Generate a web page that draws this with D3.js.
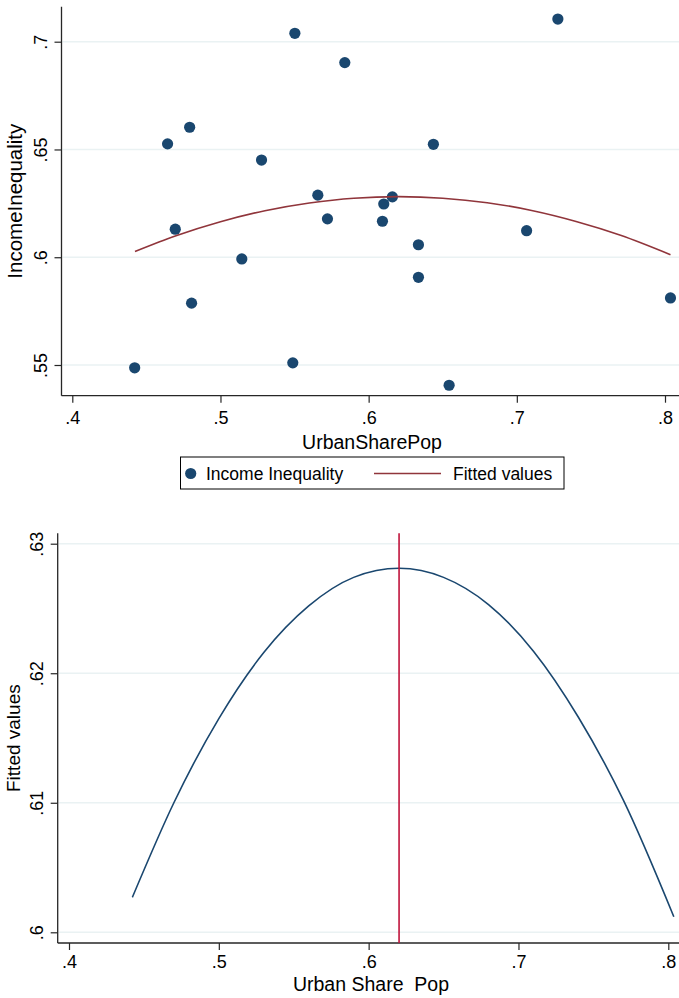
<!DOCTYPE html>
<html>
<head>
<meta charset="utf-8">
<script src="https://cdn.jsdelivr.net/npm/d3@7"></script>
<style>
  body { margin: 0; background: #fff; }
  svg { display: block; font-family: "Liberation Sans", Arial, Helvetica, sans-serif; }
  .tick text { fill: #000; }
</style>
</head>
<body>
<div id="chart"></div>
<script>
// data
var urbanShare = [0.7277, 0.5502, 0.5839, 0.4792, 0.4643, 0.6437, 0.5277, 0.5657, 0.6160, 0.6102,
                  0.5722, 0.6093, 0.4695, 0.7066, 0.6336, 0.5144, 0.6336, 0.4805, 0.8037, 0.4421,
                  0.5488, 0.6543];
var incomeIneq = [0.7105, 0.7039, 0.6903, 0.6603, 0.6526, 0.6524, 0.6451, 0.6288, 0.6280, 0.6247,
                  0.6178, 0.6167, 0.6130, 0.6123, 0.6058, 0.5992, 0.5907, 0.5787, 0.5811, 0.5487,
                  0.5510, 0.5406];

// fitted values (quadratic fit)
var fitX = [0.4423, 0.4700, 0.5000, 0.5300, 0.5600, 0.5900, 0.6203, 0.6500, 0.6800, 0.7100, 0.7400, 0.7700, 0.8037];
var fitY = [0.6027, 0.6100, 0.6165, 0.6216, 0.6252, 0.6274, 0.6281, 0.6274, 0.6253, 0.6217, 0.6166, 0.6102, 0.6012];

// turning point of the fit
var peakX = [0.6203];

var xTicks = [0.4, 0.5, 0.6, 0.7, 0.8];
var yTicksTop = [0.55, 0.6, 0.65, 0.7];
var yTicksBot = [0.6, 0.61, 0.62, 0.63];

var navy = "#1a476f";
var maroon = "#90353b";
var gridColor = "#eaf2f3";
var axisColor = "#262626";

var svg = d3.select("#chart")
  .append("svg")
  .attr("width", 679)
  .attr("height", 998);

var stataFmt = d => String(+d.toFixed(2)).replace(/^0/, "");

var scatter = urbanShare.map((u, i) => ({x: u, y: incomeIneq[i]}));
var fitted = fitX.map((u, i) => ({x: u, y: fitY[i]}));

// draw one panel frame: gridlines, axes, labels
function drawPanel(p) {
  var g = svg.append("g");

  // gridlines
  g.selectAll(".grid")
    .data(p.yTicks)
    .enter()
    .append("line")
    .attr("x1", p.left + 1)
    .attr("x2", 679)
    .attr("y1", d => p.y(d))
    .attr("y2", d => p.y(d))
    .attr("stroke", gridColor)
    .attr("stroke-width", 1.5);

  // x axis
  var xAxis = g.append("g")
    .attr("transform", `translate(0, ${p.bottom})`)
    .call(d3.axisBottom(p.x).tickValues(xTicks).tickFormat(stataFmt).tickSizeOuter(0).tickSize(7));
  xAxis.select(".domain").remove();
  xAxis.selectAll(".tick line").attr("stroke", axisColor).attr("stroke-width", 1.2);
  xAxis.selectAll(".tick text")
    .attr("y", p.xLabelBase - p.bottom)
    .attr("dy", null)
    .attr("font-size", "18px");

  // y axis
  var yAxis = g.append("g")
    .attr("transform", `translate(${p.left}, 0)`)
    .call(d3.axisLeft(p.y).tickValues(p.yTicks).tickFormat(stataFmt).tickSizeOuter(0).tickSize(7));
  yAxis.select(".domain").remove();
  yAxis.selectAll(".tick line").attr("stroke", axisColor).attr("stroke-width", 1.2);
  yAxis.selectAll(".tick text")
    .attr("transform", "rotate(-90)")
    .attr("x", 0)
    .attr("y", -14.5)
    .attr("dy", null)
    .attr("text-anchor", "middle")
    .attr("font-size", "18px");

  // axis lines
  g.append("line")
    .attr("x1", p.left).attr("x2", p.left)
    .attr("y1", p.top).attr("y2", p.bottom)
    .attr("stroke", axisColor).attr("stroke-width", 1.3);
  g.append("line")
    .attr("x1", p.left).attr("x2", 679)
    .attr("y1", p.bottom).attr("y2", p.bottom)
    .attr("stroke", axisColor).attr("stroke-width", 1.3);

  // titles
  g.append("text")
    .attr("x", p.xTitleX)
    .attr("y", p.xTitleY)
    .attr("text-anchor", "middle")
    .attr("font-size", "19.5px")
    .style("white-space", "pre")
    .text(p.xTitle);

  g.append("text")
    .attr("transform", `translate(${p.yTitleX}, ${(p.top + p.bottom) / 2}) rotate(-90)`)
    .attr("text-anchor", "middle")
    .attr("font-size", p.yTitleSize)
    .text(p.yTitle);

  return g;
}

/////////////// top panel: scatter + fitted ///////////////
var xTop = d3.scaleLinear().domain([0.4, 0.8]).range([72.3, 665]);
var yTop = d3.scaleLinear().domain([0.55, 0.7]).range([365, 41.7]);

var topPanel = drawPanel({
  x: xTop, y: yTop, yTicks: yTicksTop,
  left: 61.5, top: 6.7, bottom: 395.7, xLabelBase: 424,
  xTitle: "UrbanSharePop", xTitleX: 372, xTitleY: 449,
  yTitle: "IncomeInequality", yTitleX: 22, yTitleSize: "20.5px"
});

var lineTop = d3.line()
  .x(d => xTop(d.x))
  .y(d => yTop(d.y))
  .curve(d3.curveMonotoneX);

topPanel.append("g")
  .selectAll("circle")
  .data(scatter)
  .enter()
  .append("circle")
  .attr("cx", d => xTop(d.x))
  .attr("cy", d => yTop(d.y))
  .attr("r", 5.6)
  .attr("fill", navy);

topPanel.append("path")
  .datum(fitted)
  .attr("d", lineTop)
  .attr("fill", "none")
  .attr("stroke", maroon)
  .attr("stroke-width", 1.6);

// legend
var legend = svg.append("g");
legend.append("rect")
  .attr("x", 180.5).attr("y", 457)
  .attr("width", 383.5).attr("height", 32)
  .attr("fill", "#fff")
  .attr("stroke", "#000")
  .attr("stroke-width", 1);
legend.append("circle")
  .attr("cx", 190.7).attr("cy", 473.5).attr("r", 5.6)
  .attr("fill", navy);
legend.append("text")
  .attr("x", 206).attr("y", 480)
  .attr("font-size", "17.5px")
  .text("Income Inequality");
legend.append("line")
  .attr("x1", 374).attr("x2", 441)
  .attr("y1", 473.5).attr("y2", 473.5)
  .attr("stroke", maroon).attr("stroke-width", 1.6);
legend.append("text")
  .attr("x", 453).attr("y", 480)
  .attr("font-size", "17.5px")
  .text("Fitted values");

/////////////// bottom panel: fitted curve + turning point ///////////////
var xBot = d3.scaleLinear().domain([0.4, 0.8]).range([69, 668.3]);
var yBot = d3.scaleLinear().domain([0.6, 0.63]).range([932.3, 543.7]);

var botPanel = drawPanel({
  x: xBot, y: yBot, yTicks: yTicksBot,
  left: 57.7, top: 533.3, bottom: 943, xLabelBase: 968,
  xTitle: "Urban Share  Pop", xTitleX: 371, xTitleY: 991,
  yTitle: "Fitted values", yTitleX: 19.5, yTitleSize: "19px"
});

var lineBot = d3.line()
  .x(d => xBot(d.x))
  .y(d => yBot(d.y))
  .curve(d3.curveMonotoneX);

botPanel.append("path")
  .datum(fitted)
  .attr("d", lineBot)
  .attr("fill", "none")
  .attr("stroke", navy)
  .attr("stroke-width", 1.6);

botPanel.selectAll(".peak")
  .data(peakX)
  .enter()
  .append("line")
  .attr("x1", d => xBot(d))
  .attr("x2", d => xBot(d))
  .attr("y1", 533.3)
  .attr("y2", 943)
  .attr("stroke", "#c0143c")
  .attr("stroke-width", 1.6);
</script>
</body>
</html>
